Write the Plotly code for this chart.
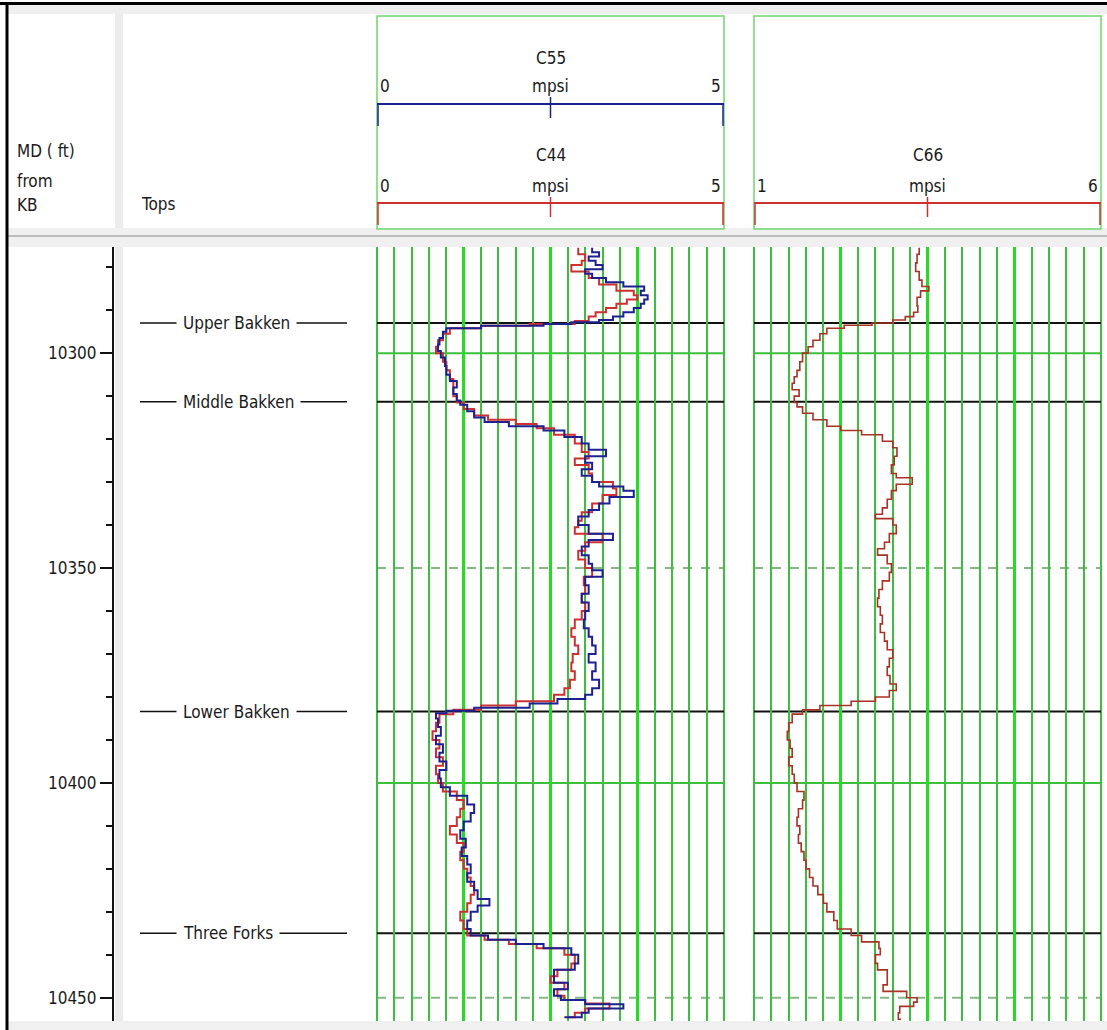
import plotly.graph_objects as go

# ---------------- data ----------------
# C55 (blue) shear modulus log, track 1
c55_depth = [10275.5, 10276.5, 10277.5, 10278.5, 10279.5, 10280.5, 10281.5, 10282.5, 10283.5, 10284.5,
             10285.5, 10286.5, 10287.5, 10288.5, 10289.5, 10290.5, 10291.5, 10292.3, 10292.8, 10293.2,
             10293.6, 10294.2, 10295, 10296.5, 10298, 10299.5, 10301, 10303, 10305, 10306.5,
             10308, 10309.5, 10311, 10312, 10313.5, 10315, 10316, 10317, 10318, 10319.5,
             10321, 10322.5, 10324, 10325.5, 10327, 10328.5, 10330, 10331, 10332, 10333.5,
             10335, 10336.5, 10338, 10340, 10342, 10343.5, 10345, 10347, 10349, 10350.5,
             10352, 10354, 10356, 10358, 10360, 10362, 10364, 10366, 10368, 10370,
             10372, 10374, 10376, 10378, 10379.5, 10380.5, 10381.5, 10382.5, 10383.2, 10383.8,
             10385, 10387, 10389, 10391, 10393, 10395, 10397, 10399, 10401, 10403,
             10405, 10407, 10409, 10411, 10413, 10415, 10417, 10419, 10421, 10423,
             10425, 10427, 10428.5, 10430, 10432, 10434, 10435.5, 10436.5, 10437.5, 10438.5,
             10440, 10442, 10443.5, 10445, 10446.5, 10448, 10449.5, 10450.5, 10451.5, 10452.5,
             10453.5, 10454.5]
c55 = [3.10, 3.20, 3.05, 3.15, 3.25, 3.00, 3.10, 3.30, 3.55, 3.85,
       3.80, 3.90, 3.85, 3.80, 3.70, 3.55, 3.40, 3.20, 2.80, 2.40,
       1.50, 1.00, 0.95, 0.90, 0.88, 0.92, 0.98, 1.00, 1.05, 1.15,
       1.10, 1.15, 1.20, 1.30, 1.40, 1.55, 1.90, 2.40, 2.70, 2.95,
       3.05, 3.30, 3.00, 3.10, 2.95, 3.10, 3.20, 3.55, 3.70, 3.35,
       3.20, 3.05, 2.90, 3.05, 3.40, 3.05, 2.95, 3.05, 3.10, 3.25,
       3.00, 3.05, 2.95, 3.05, 3.00, 2.98, 3.05, 3.10, 3.15, 3.05,
       3.15, 3.10, 3.20, 3.10, 3.00, 2.60, 2.20, 1.40, 1.00, 0.85,
       0.88, 0.92, 0.85, 0.95, 0.90, 1.00, 0.90, 0.92, 1.05, 1.30,
       1.40, 1.35, 1.25, 1.20, 1.28, 1.22, 1.30, 1.35, 1.30, 1.40,
       1.45, 1.62, 1.45, 1.35, 1.30, 1.35, 1.60, 2.00, 2.40, 2.80,
       2.90, 2.85, 2.55, 2.55, 2.75, 2.55, 2.65, 3.00, 3.55, 3.05,
       2.95, 2.70]

# C44 (red) shear modulus log, track 1
c44_depth = [10275.5, 10277, 10278.5, 10279.5, 10281, 10282.5, 10284, 10285.5, 10286.5, 10287.5,
             10288.5, 10289.5, 10290.5, 10291.5, 10292.5, 10293.2, 10293.6, 10294.2, 10295.5, 10297,
             10298.5, 10300, 10302, 10304, 10306, 10308, 10310, 10311.5, 10313, 10314.5,
             10315.5, 10316.5, 10317.5, 10319, 10321, 10323, 10324.5, 10326, 10328, 10330,
             10331.5, 10333, 10335, 10337, 10339, 10340.5, 10342, 10344, 10346, 10348,
             10350, 10352, 10354, 10356, 10358, 10360, 10362, 10364, 10366, 10368,
             10370, 10372, 10374, 10376, 10378, 10379.5, 10381, 10382, 10383, 10384,
             10386, 10388, 10390, 10392, 10394, 10396, 10398, 10400, 10402, 10404,
             10406, 10408, 10410, 10412, 10414, 10416, 10418, 10420, 10422, 10424,
             10426, 10428, 10430, 10432, 10434, 10435.5, 10436.5, 10437.5, 10438.5, 10440,
             10442, 10443.5, 10445, 10446.5, 10448, 10449.5, 10450.5, 10451.3, 10452.5, 10453.5,
             10454.5]
c44 = [2.90, 3.00, 2.95, 2.80, 3.05, 3.20, 3.45, 3.70, 3.75, 3.60,
       3.45, 3.30, 3.15, 3.05, 2.85, 2.20, 1.50, 1.05, 0.95, 0.88,
       0.85, 0.95, 1.00, 1.05, 1.10, 1.10, 1.15, 1.25, 1.40, 1.60,
       2.00, 2.30, 2.55, 2.85, 2.95, 3.05, 2.85, 3.05, 3.10, 3.40,
       3.45, 3.25, 3.10, 2.95, 2.90, 2.85, 3.25, 3.00, 2.90, 3.00,
       3.10, 2.98, 3.00, 2.95, 3.00, 2.95, 2.85, 2.80, 2.85, 2.90,
       2.82, 2.80, 2.85, 2.78, 2.70, 2.55, 2.00, 1.50, 1.10, 0.90,
       0.85, 0.80, 0.90, 0.85, 0.95, 0.85, 0.88, 0.95, 1.15, 1.25,
       1.20, 1.15, 1.05, 1.15, 1.25, 1.20, 1.25, 1.30, 1.35, 1.40,
       1.35, 1.30, 1.20, 1.25, 1.30, 1.55, 1.90, 2.30, 2.70, 2.85,
       2.80, 2.60, 2.50, 2.70, 2.60, 2.70, 3.00, 3.35, 3.00, 2.85,
       2.75]

# C66 (red) shear modulus log, track 2
c66_depth = [10275.5, 10277, 10279, 10281, 10283, 10284.5, 10285.5, 10287, 10289, 10290.5,
             10291.5, 10292.3, 10293, 10293.5, 10294.2, 10295.5, 10297, 10298.5, 10300, 10302,
             10304, 10305.5, 10307, 10308.5, 10310, 10311.5, 10312.5, 10314, 10315.5, 10317,
             10318, 10319, 10320.5, 10322, 10324, 10326, 10328, 10329, 10330.5, 10332,
             10334, 10336, 10337.5, 10338.5, 10340, 10342, 10344, 10345.5, 10347, 10349,
             10351, 10353, 10355, 10357, 10359, 10361, 10363, 10365, 10367, 10369,
             10371, 10373, 10375, 10377, 10378.5, 10380, 10381, 10382, 10383, 10384,
             10386, 10388, 10390, 10392, 10394, 10396, 10398, 10400, 10402, 10404,
             10406, 10408, 10410, 10412, 10414, 10416, 10418, 10420, 10422, 10424,
             10426, 10428, 10430, 10432, 10434, 10435.5, 10437, 10438.5, 10440, 10442,
             10443.5, 10445.5, 10447, 10448.5, 10450, 10451, 10452, 10453.5, 10455]
c66 = [3.38, 3.35, 3.33, 3.38, 3.42, 3.52, 3.40, 3.35, 3.36, 3.30,
       3.18, 3.00, 2.70, 2.30, 2.05, 1.95, 1.85, 1.78, 1.70, 1.66,
       1.62, 1.58, 1.55, 1.65, 1.58, 1.62, 1.70, 1.85, 2.05, 2.25,
       2.55, 2.85, 3.00, 3.06, 3.02, 2.98, 3.05, 3.28, 3.05, 2.98,
       2.92, 2.85, 2.75, 3.00, 3.05, 2.95, 2.88, 2.78, 2.92, 2.98,
       2.95, 2.85, 2.80, 2.78, 2.82, 2.85, 2.82, 2.88, 2.92, 3.00,
       2.95, 2.92, 2.96, 3.05, 2.95, 2.75, 2.40, 1.95, 1.70, 1.55,
       1.50, 1.48, 1.52, 1.55, 1.50, 1.55, 1.58, 1.62, 1.72, 1.70,
       1.64, 1.62, 1.66, 1.64, 1.68, 1.72, 1.75, 1.80, 1.85, 1.92,
       2.00, 2.05, 2.15, 2.20, 2.40, 2.55, 2.80, 2.82, 2.75, 2.78,
       2.92, 2.92, 2.86, 3.20, 3.35, 3.30, 3.10, 3.08, 3.12]

# formation tops (MD, ft)
top_names = ["Upper Bakken", "Middle Bakken", "Lower Bakken", "Three Forks"]
top_depths = [10293.0, 10311.3, 10383.4, 10435.0]

# depth grid lines inside the tracks
depth_grid = [10300, 10350, 10400, 10450]
depth_grid_dash = ["solid", "dash", "solid", "dash"]

DEPTH_TOP, DEPTH_BASE = 10275.3, 10455.4

# ---------------- page geometry (pixels) ----------------
W, H = 1107, 1030
FONT = "Liberation Sans Narrow, Arial Narrow, DejaVu Sans Condensed, sans-serif"
FS = 17
GRID_THIN = "#3cbf3c"
GRID_THICK = "#22dd22"
HDR_GREEN = "#6fd66f"
BLUE = "#1c2090"
RED = "#cc3030"
BROWN = "#a83224"


def fx(x):
    return x / W


def fy(y):
    return 1 - y / H


T1 = (377, 724)   # track 1 horizontal extent
T2 = (754, 1101)  # track 2 horizontal extent
BODY = (247, 1021)

fig = go.Figure()

fig.add_trace(go.Scatter(x=c44, y=c44_depth, mode="lines", name="C44",
                         line=dict(color=RED, width=2, shape="vh"),
                         xaxis="x", yaxis="y", showlegend=False))
fig.add_trace(go.Scatter(x=c55, y=c55_depth, mode="lines", name="C55",
                         line=dict(color=BLUE, width=2, shape="vh"),
                         xaxis="x", yaxis="y", showlegend=False))
fig.add_trace(go.Scatter(x=c66, y=c66_depth, mode="lines", name="C66",
                         line=dict(color=BROWN, width=1.6, shape="vh"),
                         xaxis="x2", yaxis="y", showlegend=False))

track_axis = dict(
    showticklabels=False, ticks="", zeroline=False, showline=False,
    showgrid=True, gridcolor=GRID_THICK, gridwidth=3, tickmode="array",
    minor=dict(showgrid=True, gridcolor=GRID_THIN, gridwidth=2, tickmode="linear",
               dtick=0.25, ticks=""),
    anchor="y", fixedrange=True,
)

fig.update_layout(
    width=W, height=H,
    margin=dict(l=0, r=0, t=0, b=0),
    paper_bgcolor="white", plot_bgcolor="white",
    font=dict(family=FONT, size=FS, color="#1a1a1a"),
    xaxis=dict(track_axis, domain=[fx(T1[0]), fx(T1[1])], range=[0, 5],
               tickvals=[1.25, 2.5, 3.75], minor=dict(track_axis["minor"], tick0=0)),
    xaxis2=dict(track_axis, domain=[fx(T2[0]), fx(T2[1])], range=[1, 6],
                tickvals=[2.25, 3.5, 4.75], minor=dict(track_axis["minor"], tick0=1)),
    yaxis=dict(
        domain=[fy(BODY[1]), fy(BODY[0])],
        range=[DEPTH_BASE, DEPTH_TOP],
        anchor="free", position=fx(113), side="left",
        showline=True, linecolor="#111", linewidth=2,
        showgrid=False, zeroline=False,
        ticks="outside", ticklen=12, tickwidth=2, tickcolor="#111",
        tick0=0, dtick=50, tickformat="d",
        tickfont=dict(family=FONT, size=FS, color="#1a1a1a"),
        minor=dict(ticks="outside", ticklen=6, tickwidth=2, tickcolor="#111",
                   dtick=10, tick0=0, showgrid=False),
        fixedrange=True,
    ),
)

shapes = []


def prect(x0, y0, x1, y1, fill, line_color=None, line_width=0, layer="below"):
    shapes.append(dict(type="rect", xref="paper", yref="paper",
                       x0=fx(x0), x1=fx(x1), y0=fy(y1), y1=fy(y0),
                       fillcolor=fill, layer=layer,
                       line=dict(color=line_color or fill, width=line_width)))


def pline(x0, y0, x1, y1, color, width, dash="solid", layer="above"):
    shapes.append(dict(type="line", xref="paper", yref="paper",
                       x0=fx(x0), x1=fx(x1), y0=fy(y0), y1=fy(y1),
                       layer=layer, line=dict(color=color, width=width, dash=dash)))


# frame: light grey bands and black outer edge
prect(8, 4, W, 14, "#efefef")
prect(115, 14, 123, BODY[1], "#ececec")
prect(8, 228, W, 247, "#f0f0f0")
pline(8, 236, W, 236, "#bdbdbd", 2)
prect(8, BODY[1], W, H, "#f0f0f0")
pline(0, 3.5, W, 3.5, "#000", 3)
pline(7, 3, 7, H, "#000", 3)

# header boxes of the two tracks
for (a, b) in (T1, T2):
    prect(a, 16, b, 229, "rgba(0,0,0,0)", HDR_GREEN, 1.5)


def scale_bar(a, b, y, color, tick_up):
    mid = (a + b) / 2
    pline(a, y, b, y, color, 2)
    pline(a + 1, y, a + 1, y + 22, color, 1.5)
    pline(b - 1, y, b - 1, y + 22, color, 1.5)
    pline(mid, y - tick_up, mid, y + 14, color, 1.5)


scale_bar(T1[0], T1[1], 104, BLUE, 7)
scale_bar(T1[0], T1[1], 203, RED, 6)
scale_bar(T2[0], T2[1], 203, RED, 6)

# body: depth grid lines, track edges, formation top lines
for xr in ("x domain", "x2 domain"):
    for d, ds in zip(depth_grid, depth_grid_dash):
        shapes.append(dict(type="line", xref=xr, yref="y", x0=0, x1=1, y0=d, y1=d,
                           layer="below",
                           line=dict(color=GRID_THIN if ds == "solid" else "#86b886",
                                     width=2, dash=ds)))
    for xe in (0, 1):
        shapes.append(dict(type="line", xref=xr, yref="y domain", x0=xe, x1=xe, y0=0, y1=1,
                           layer="below", line=dict(color=GRID_THIN, width=2)))
    for d in top_depths:
        shapes.append(dict(type="line", xref=xr, yref="y", x0=0, x1=1, y0=d, y1=d,
                           layer="below", line=dict(color="#111", width=2)))

# tops column markers
for d in top_depths:
    shapes.append(dict(type="line", xref="paper", yref="y", x0=fx(140), x1=fx(347),
                       y0=d, y1=d, layer="below", line=dict(color="#111", width=1.5)))

fig.update_layout(shapes=shapes)

annotations = []


def ptext(x, y, text, xanchor="center", size=FS, **kw):
    annotations.append(dict(xref="paper", yref="paper", x=fx(x), y=fy(y), text=text,
                            showarrow=False, xanchor=xanchor, yanchor="middle",
                            font=dict(family=FONT, size=size, color="#1a1a1a"), **kw))


ptext(15, 151, "MD ( ft)", "left")
ptext(15, 181, "from", "left")
ptext(15, 205, "KB", "left")
ptext(139, 204, "Tops", "left")

mid1 = (T1[0] + T1[1]) / 2
mid2 = (T2[0] + T2[1]) / 2
ptext(mid1, 58, "C55")
ptext(T1[0] + 1, 86, "0", "left")
ptext(mid1, 86, "mpsi")
ptext(T1[1] - 1, 86, "5", "right")
ptext(mid1, 155, "C44")
ptext(T1[0] + 1, 186, "0", "left")
ptext(mid1, 186, "mpsi")
ptext(T1[1] - 1, 186, "5", "right")
ptext(mid2, 155, "C66")
ptext(T2[0] + 1, 186, "1", "left")
ptext(mid2, 186, "mpsi")
ptext(T2[1] - 1, 186, "6", "right")

for name, d in zip(top_names, top_depths):
    annotations.append(dict(xref="paper", yref="y", x=fx(176), y=d, text=name,
                            showarrow=False, xanchor="left", yanchor="middle",
                            bgcolor="white", borderpad=6,
                            font=dict(family=FONT, size=FS, color="#1a1a1a")))

fig.update_layout(annotations=annotations)

fig.write_html("out.html", config=dict(displayModeBar=False))
